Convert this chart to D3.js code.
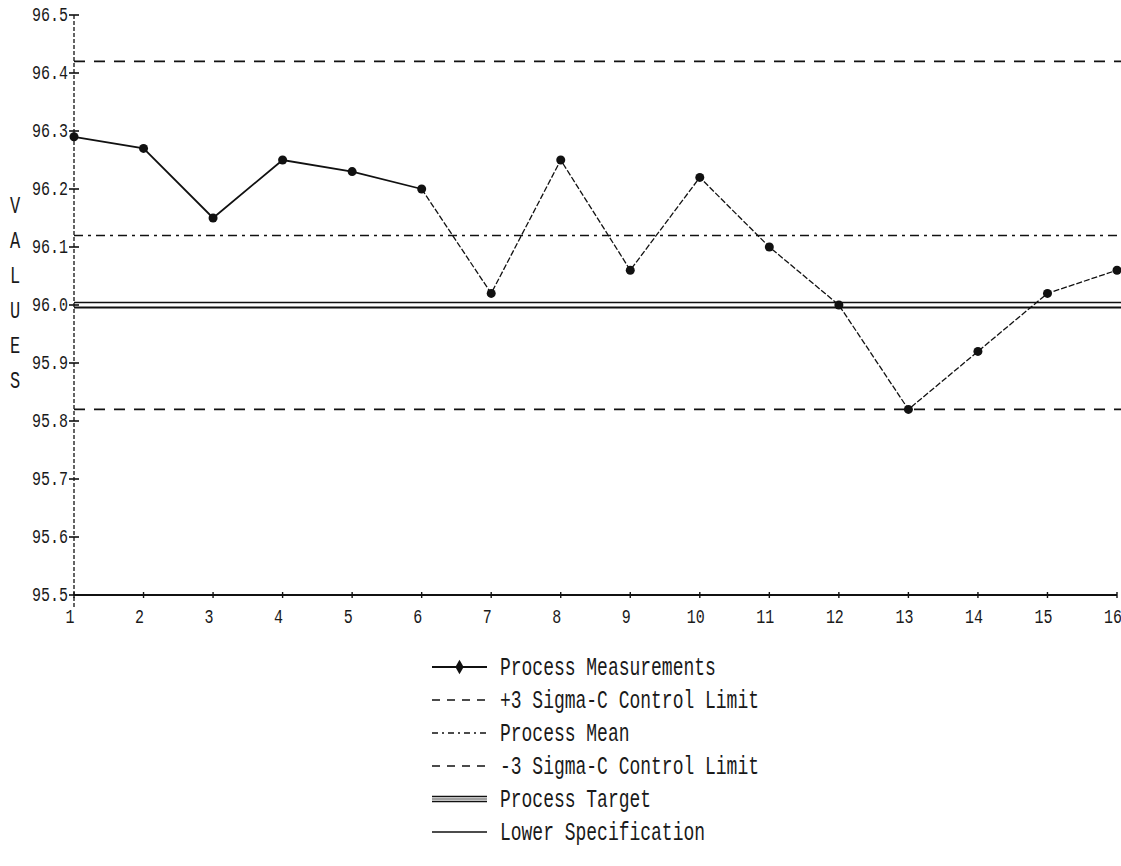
<!DOCTYPE html>
<html>
<head>
<meta charset="utf-8">
<script src="https://cdn.jsdelivr.net/npm/d3@7"></script>
<style>
  html, body { margin: 0; padding: 0; background: #fff; }
  svg { display: block; }
  text { font-family: "Liberation Mono", "DejaVu Sans Mono", monospace; fill: #1a1a1a; }
</style>
</head>
<body>
<svg id="chart" width="1121" height="866"></svg>
<script>
// Sample numbers along the x axis
const samples = [1, 2, 3, 4, 5, 6, 7, 8, 9, 10, 11, 12, 13, 14, 15, 16];
// Measured process values per sample
const measurements = [96.29, 96.27, 96.15, 96.25, 96.23, 96.20, 96.02, 96.25, 96.06, 96.22, 96.10, 96.00, 95.82, 95.92, 96.02, 96.06];
// Y tick values
const yTicks = [95.5, 95.6, 95.7, 95.8, 95.9, 96.0, 96.1, 96.2, 96.3, 96.4, 96.5];
// Reference lines
const upperControl = 96.42;
const processMean = 96.12;
const lowerControl = 95.82;
const processTarget = 96.0;
const lowerSpec = 95.5;
// Legend entries
const legendLabels = ["Process Measurements", "+3 Sigma-C Control Limit", "Process Mean", "-3 Sigma-C Control Limit", "Process Target", "Lower Specification"];
const yTitle = "VALUES";

const svg = d3.select("#chart");
const x = d3.scaleLinear().domain([1, 16]).range([74, 1117]);
const y = d3.scaleLinear().domain([95.5, 96.5]).range([595, 15]);
const ink = "#111";

// helper for tall, narrow plotter-style text
function label(g, tx, ty, str, size, anchor, sy) {
  return g.append("text")
    .attr("transform", `translate(${tx},${ty}) scale(1,${sy})`)
    .attr("font-size", size)
    .attr("text-anchor", anchor)
    .text(str);
}

// Reference lines
const refs = svg.append("g");
function hline(v, dash, w) {
  refs.append("line")
    .attr("x1", x(1)).attr("x2", 1121)
    .attr("y1", y(v)).attr("y2", y(v))
    .attr("stroke", ink).attr("stroke-width", w)
    .attr("stroke-dasharray", dash);
}
hline(upperControl, "11,9", 1.8);
hline(processMean, "9,5,3,5", 1.5);
hline(lowerControl, "11,9", 1.8);
// process target: double line
refs.append("line").attr("x1", x(1)).attr("x2", 1121)
  .attr("y1", y(processTarget) - 2.5).attr("y2", y(processTarget) - 2.5)
  .attr("stroke", ink).attr("stroke-width", 1.4);
refs.append("line").attr("x1", x(1)).attr("x2", 1121)
  .attr("y1", y(processTarget) + 2.5).attr("y2", y(processTarget) + 2.5)
  .attr("stroke", ink).attr("stroke-width", 2);
// lower specification along the bottom
refs.append("line").attr("x1", x(1)).attr("x2", x(16))
  .attr("y1", y(lowerSpec)).attr("y2", y(lowerSpec))
  .attr("stroke", ink).attr("stroke-width", 2.2);

// Y axis (dotted vertical line with cross ticks)
const yAxis = svg.append("g");
yAxis.append("line")
  .attr("x1", x(1)).attr("x2", x(1))
  .attr("y1", y(96.5)).attr("y2", y(95.5) + 14)
  .attr("stroke", ink).attr("stroke-width", 1.3)
  .attr("stroke-dasharray", "4,2");
yTicks.forEach(v => {
  yAxis.append("line")
    .attr("x1", x(1) - 5).attr("x2", x(1) + 5)
    .attr("y1", y(v)).attr("y2", y(v))
    .attr("stroke", ink).attr("stroke-width", 1.6);
  label(yAxis, x(1) - 6, y(v) + 6, d3.format(".1f")(v), 15, "end", 1.3);
});

// X axis ticks and labels
const xAxis = svg.append("g");
samples.forEach(s => {
  xAxis.append("line")
    .attr("x1", x(s)).attr("x2", x(s))
    .attr("y1", y(95.5) - 3).attr("y2", y(95.5) + 3)
    .attr("stroke", ink).attr("stroke-width", 1.4);
  label(xAxis, x(s) - 4, y(95.5) + 28, String(s), 15, "middle", 1.4);
});

// Y title, letters stacked vertically
const title = svg.append("g");
yTitle.split("").forEach((ch, i) => {
  label(title, 15, 213 + i * 35, ch, 17, "middle", 1.4);
});

// Measurement line: first run drawn solid, remainder in a fine dash
const pts = samples.map((s, i) => [x(s), y(measurements[i])]);
const line = d3.line();
svg.append("path")
  .attr("d", line(pts.slice(0, 6)))
  .attr("fill", "none").attr("stroke", ink).attr("stroke-width", 1.8);
svg.append("path")
  .attr("d", line(pts.slice(5)))
  .attr("fill", "none").attr("stroke", ink).attr("stroke-width", 1.3)
  .attr("stroke-dasharray", "6,2");
svg.append("g").selectAll("circle")
  .data(samples)
  .join("circle")
  .attr("cx", (s) => x(s))
  .attr("cy", (s, i) => y(measurements[i]))
  .attr("r", 4.5)
  .attr("fill", ink);

// Legend
const lg = svg.append("g");
const lx0 = 432, lx1 = 487, ly0 = 675, lstep = 33;
legendLabels.forEach((t, i) => {
  const yy = ly0 + i * lstep;
  const ym = yy - 8;
  if (i === 0) {
    lg.append("line").attr("x1", lx0).attr("x2", lx1).attr("y1", ym).attr("y2", ym)
      .attr("stroke", ink).attr("stroke-width", 1.8);
    lg.append("path").attr("d", d3.symbol(d3.symbolDiamond, 60)())
      .attr("transform", `translate(${(lx0 + lx1) / 2},${ym})`).attr("fill", ink);
  } else if (i === 1 || i === 3) {
    lg.append("line").attr("x1", lx0).attr("x2", lx1).attr("y1", ym).attr("y2", ym)
      .attr("stroke", ink).attr("stroke-width", 1.6).attr("stroke-dasharray", "8,7");
  } else if (i === 2) {
    lg.append("line").attr("x1", lx0).attr("x2", lx1).attr("y1", ym).attr("y2", ym)
      .attr("stroke", ink).attr("stroke-width", 1.4).attr("stroke-dasharray", "6,4,2,4");
  } else if (i === 4) {
    [-2.5, 0, 2.5].forEach(o => lg.append("line").attr("x1", lx0).attr("x2", lx1)
      .attr("y1", ym + o).attr("y2", ym + o).attr("stroke", ink).attr("stroke-width", o === 0 ? 0.8 : 1.6));
  } else {
    lg.append("line").attr("x1", lx0).attr("x2", lx1).attr("y1", ym).attr("y2", ym)
      .attr("stroke", ink).attr("stroke-width", 1.6);
  }
  label(lg, 500, yy, t, 18, "start", 1.4);
});
</script>
</body>
</html>
